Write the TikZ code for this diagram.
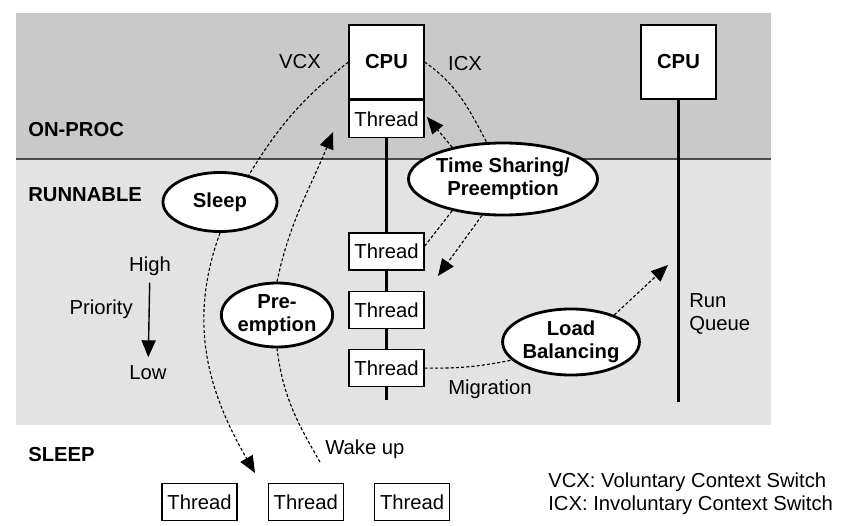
\documentclass[tikz,border=0pt]{standalone}
\usepackage{fontspec}
\setmainfont{Liberation Sans}
\usepackage{tikz}
\usetikzlibrary{arrows.meta,positioning,shapes.geometric}

\definecolor{onproc}{gray}{0.79}
\definecolor{runnable}{gray}{0.89}
\definecolor{rule}{gray}{0.3}

\begin{document}
\begin{tikzpicture}[x=0.025cm,y=-0.025cm
	,>={Triangle[length=12pt,width=10pt]}
	,font=\fontsize{14.4}{16.5}\selectfont
	,box/.style={draw,line width=0.9pt,fill=white
	  ,minimum width=1.875cm,minimum height=0.925cm,inner sep=0pt}
	,cpubox/.style={box,minimum height=1.85cm
	  ,font=\fontsize{14.4}{16.5}\selectfont\bfseries}
	,oval/.style={ellipse,draw,line width=2pt,fill=white,inner sep=0pt
	  ,align=center,font=\fontsize{14.4}{16}\selectfont\bfseries}
	,txt/.style={inner sep=0pt}
	,zone/.style={txt,anchor=west,font=\fontsize{14.4}{16.5}\selectfont\bfseries}
	,flow/.style={line width=0.8pt,dash pattern=on 2.2pt off 1.5pt}
	,queue/.style={line width=2.1pt}]
  \useasboundingbox (0,0) rectangle (851,526);

  % zones
  \fill[onproc]   (16,13)  rectangle (771,159);
  \fill[runnable] (16,159) rectangle (771,425);
  \draw[rule,line width=1.4pt] (16,159) -- (771,159);
  \node[zone] (onp) at (28,130) {ON-PROC};
  \node[zone] (run) at (28,195) {RUNNABLE};
  \node[zone] (slp) at (28,455) {SLEEP};

  % cpus and run queues
  \node[cpubox] (cpu) at (386.5,62) {CPU};
  \node[box,below=0pt of cpu] (tp) {Thread};
  \coordinate (q1end) at (386.5,400);
  \draw[queue] (tp) -- (q1end);
  \node[box] (r1) at (386.5,251.5) {Thread};
  \node[box,below=0.5cm of r1] (r2) {Thread};
  \node[box,below=0.5cm of r2] (r3) {Thread};

  \node[cpubox] (cpu2) at (678.5,62) {CPU};
  \coordinate (q2end) at (678.5,402);
  \draw[queue] (cpu2) -- (q2end);
  \node[txt,anchor=west,align=left] (rq) at (689,314) {Run\\Queue};

  % sleeping threads
  \node[box] (s1) at (199.5,502) {Thread};
  \node[box,right=0.75cm of s1] (s2) {Thread};
  \node[box,right=0.75cm of s2] (s3) {Thread};

  % events
  \node[oval,minimum width=2.85cm,minimum height=1.475cm] (sleep) at (220,202) {Sleep};
  \node[oval,minimum width=2.775cm,minimum height=1.6cm] (pre) at (277,315) {Pre-\\emption};
  \node[oval,minimum width=4.725cm,minimum height=1.8cm] (ts) at (503,179) {Time Sharing/\\Preemption};
  \node[oval,minimum width=3.35cm,minimum height=1.65cm] (lb) at (571,342) {Load\\Balancing};

  % priority
  \node[txt] (high) at (150,266) {High};
  \node[txt] (low) at (148,373) {Low};
  \node[txt,anchor=east] (prio) at (133,309) {Priority};
  \draw[->,line width=1pt,shorten <=5pt,shorten >=6pt] (high) -- (low);

  % labels
  \node[txt] (vcx) at (300,62) {VCX};
  \node[txt] (icx) at (465,64) {ICX};
  \node[txt,anchor=west] (mig) at (448,389) {Migration};
  \node[txt,anchor=west] (wake) at (325,449) {Wake up};
  \node[txt,anchor=west,align=left] (legend) at (548,494)
    {VCX: Voluntary Context Switch\\ICX: Involuntary Context Switch};

  % free ends
  \coordinate (sleepin) at (255,473);
  \coordinate (wakeout) at (320,462);
  \coordinate (prein) at (333,132);
  \coordinate (icxin) at (438,276);
  \coordinate (tsin) at (427,117);
  \coordinate (lbin) at (668,265);

  % vcx
  \path [flow] (cpu.west)  edge [bend right=10]           (sleep.43);
  \path [flow] (sleep.south) edge [->,out=-110,in=120]   (sleepin);
  % wake up
  \path [flow] (wakeout)   edge [out=120,in=-83]          (pre.south);
  \path [flow] (pre.north) edge [->,out=78,in=-112]       (prein);
  % icx
  \path [flow] (cpu.east)  edge [out=-35,in=118]          (ts.114);
  \path [flow] (ts.-120)   edge [->]                      (icxin);
  % time sharing
  \path [flow] (r1.8)      edge                           (ts.212);
  \path [flow] (ts.148)    edge [->]                      (tsin);
  % migration
  \path [flow] (r3.east)   edge [bend right=6]            (lb.197);
  \path [flow] (lb.32)     edge [->]                      (lbin);
\end{tikzpicture}
\end{document}
